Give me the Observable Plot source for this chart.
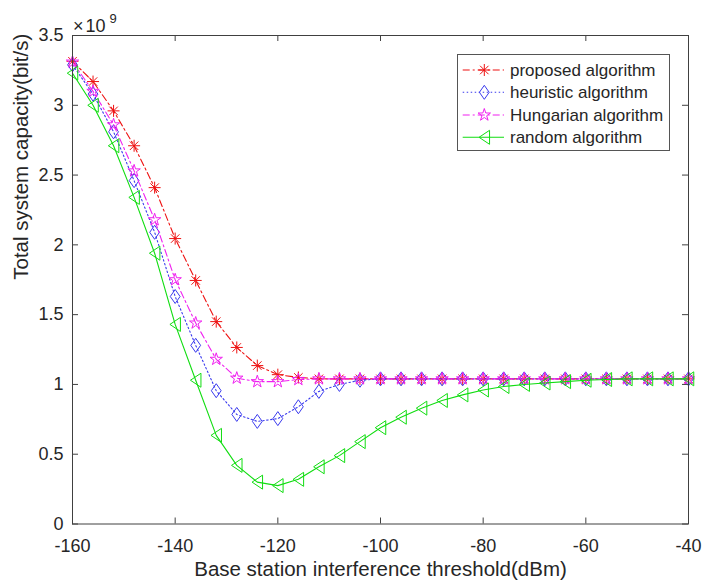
<!DOCTYPE html>
<html><head><meta charset="utf-8">
<script src="https://cdn.jsdelivr.net/npm/d3@7"></script>
<script src="https://cdn.jsdelivr.net/npm/@observablehq/plot@0.6"></script>
<style>body{margin:0;background:#fff} #chart{width:703px;height:581px}</style>
</head><body><div id="chart"></div>
<script>
// Data (capacity in units of 1e9 bit/s)
const thresholds = [-160,-156,-152,-148,-144,-140,-136,-132,-128,-124,-120,-116,-112,-108,-104,-100,-96,-92,-88,-84,-80,-76,-72,-68,-64,-60,-56,-52,-48,-44,-40];
const proposed  = [3.315,3.17,2.96,2.71,2.41,2.045,1.745,1.45,1.265,1.135,1.07,1.05,1.04,1.04,1.04,1.04,1.04,1.04,1.04,1.04,1.04,1.04,1.04,1.04,1.04,1.04,1.04,1.04,1.04,1.04,1.04];
const heuristic = [3.29,3.08,2.81,2.46,2.09,1.63,1.28,0.955,0.785,0.735,0.755,0.84,0.95,1.00,1.03,1.04,1.04,1.04,1.04,1.04,1.04,1.04,1.04,1.04,1.04,1.04,1.04,1.04,1.04,1.04,1.04];
const hungarian = [3.31,3.10,2.86,2.53,2.18,1.75,1.44,1.18,1.045,1.02,1.02,1.035,1.04,1.04,1.04,1.04,1.04,1.04,1.04,1.04,1.04,1.04,1.04,1.04,1.04,1.04,1.04,1.04,1.04,1.04,1.04];
const random    = [3.23,3.00,2.71,2.34,1.94,1.43,1.03,0.635,0.42,0.30,0.275,0.32,0.41,0.49,0.59,0.69,0.765,0.83,0.885,0.925,0.96,0.985,1.00,1.01,1.02,1.03,1.035,1.04,1.04,1.04,1.04];
const seriesNames = ["proposed algorithm","heuristic algorithm","Hungarian algorithm","random algorithm"];
const xTicks = [-160,-140,-120,-100,-80,-60,-40];
const yTicks = [0,0.5,1,1.5,2,2.5,3,3.5];
const xLabel = "Base station interference threshold(dBm)";
const yLabel = "Total system capacity(bit/s)";

// Marker symbols
function sym(fn){ return {draw(c,size){ const r=Math.sqrt(size/Math.PI); fn(c,r); }}; }
const asterisk = sym((c,r)=>{ c.moveTo(-r,0);c.lineTo(r,0);c.moveTo(0,-r);c.lineTo(0,r); const d=r*0.7071; c.moveTo(-d,-d);c.lineTo(d,d);c.moveTo(-d,d);c.lineTo(d,-d); });
const diamond = sym((c,r)=>{ c.moveTo(0,-r);c.lineTo(0.7*r,0);c.lineTo(0,r);c.lineTo(-0.7*r,0);c.closePath(); });
const star = sym((c,r)=>{ for(let i=0;i<10;i++){ const a=-Math.PI/2+i*Math.PI/5; const rr=i%2?r*0.382:r; const px=rr*Math.cos(a), py=rr*Math.sin(a); if(i) c.lineTo(px,py); else c.moveTo(px,py);} c.closePath(); });
const triLeft = sym((c,r)=>{ c.moveTo(-0.75*r,0);c.lineTo(0.75*r,-r);c.lineTo(0.75*r,r);c.closePath(); });

const styles = [
  {values: proposed,  color:"#ee1111", dash:"7,3,2,3", symbol: asterisk, r:6},
  {values: heuristic, color:"#3a3aee", dash:"1.5,2.5", symbol: diamond,  r:7},
  {values: hungarian, color:"#f020f0", dash:"7,3,2,3", symbol: star,     r:6.5},
  {values: random,    color:"#11dd11", dash:null,      symbol: triLeft,  r:7}
];

const W = 703, H = 581, mL = 72, mR = 15, mT = 35, mB = 57.5, TL = 6;
const innerW = W - mL - mR, innerH = H - mT - mB;
const axisColor = "#404040";
const marks = [];
styles.forEach((s)=>{
  const data = thresholds.map((x,i)=>({x, y:s.values[i]}));
  marks.push(Plot.line(data,{x:"x",y:"y",stroke:s.color,strokeWidth:1.1,strokeDasharray:s.dash}));
  marks.push(Plot.dot(data,{x:"x",y:"y",symbol:s.symbol,r:s.r,stroke:s.color,fill:"none",strokeWidth:1}));
});

const chart = Plot.plot({
  width:W, height:H,
  marginLeft:mL, marginRight:mR, marginTop:mT, marginBottom:mB,
  style:{fontFamily:"'Liberation Sans', Arial, Helvetica, sans-serif", fontSize:"18px", color:"#262626", background:"#fff"},
  x:{domain:[-160,-40]},
  y:{domain:[0,3.5]},
  marks:[
    ...marks,
    Plot.frame({stroke:axisColor, strokeWidth:1}),
    Plot.axisX({ticks:xTicks, tickSize:0, tickPadding:15, label:null, tickFormat:d=>String(d), fontSize:18}),
    Plot.axisY({ticks:yTicks, tickSize:0, tickPadding:9, label:null, tickFormat:d=>String(d), fontSize:18}),
    Plot.tickX(xTicks,{x:d=>d, insetTop:innerH-TL, stroke:axisColor}),
    Plot.tickX(xTicks,{x:d=>d, insetBottom:innerH-TL, stroke:axisColor}),
    Plot.tickY(yTicks,{y:d=>d, insetRight:innerW-TL, stroke:axisColor}),
    Plot.tickY(yTicks,{y:d=>d, insetLeft:innerW-TL, stroke:axisColor}),
    Plot.text([xLabel],{text:d=>d, frameAnchor:"bottom", dy:52, fontSize:20.5, fill:"#262626"}),
    Plot.text([yLabel],{text:d=>d, frameAnchor:"left", dx:-51, rotate:-90, fontSize:20.5, fill:"#262626"})
  ]
});
document.getElementById("chart").appendChild(chart);

// exponent label and legend
const svg = d3.select(chart);
const ex = svg.append("text").attr("x",73).attr("y",31.7).attr("fill","#262626").attr("text-anchor","start")
  .style("font-family","'Liberation Sans', Arial, sans-serif").style("font-size","18px");
ex.append("tspan").text("×");
ex.append("tspan").attr("dx",2).text("10");
ex.append("tspan").attr("x",109.5).attr("y",23.3).style("font-size","13px").text("9");

const lg = svg.append("g").style("font-family","'Liberation Sans', Arial, sans-serif").attr("text-anchor","start");
lg.append("rect").attr("x",457.5).attr("y",54.5).attr("width",212).attr("height",96)
  .attr("fill","#fff").attr("stroke","#555").attr("stroke-width",1);
const rowY = [70,92.3,115,137.3];
styles.forEach((s,i)=>{
  const y = rowY[i];
  lg.append("line").attr("x1",462.7).attr("x2",504).attr("y1",y).attr("y2",y)
    .attr("stroke",s.color).attr("stroke-width",1.1).attr("stroke-dasharray",s.dash);
  lg.append("path").attr("transform",`translate(484.3,${y})`)
    .attr("d",d3.symbol(s.symbol, s.r*s.r*Math.PI)())
    .attr("fill","none").attr("stroke",s.color).attr("stroke-width",1);
  lg.append("text").attr("x",510).attr("y",y).attr("dy","0.35em").attr("fill","#262626")
    .style("font-size","17px").text(seriesNames[i]);
});
</script>
</body></html>
